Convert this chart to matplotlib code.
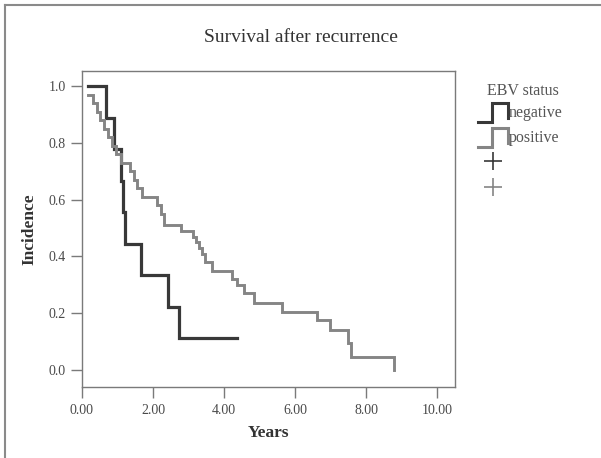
import matplotlib
matplotlib.use('Agg')
import matplotlib.pyplot as plt
from matplotlib.lines import Line2D

# ---- data ----
neg_times = [0.17, 0.68, 0.90, 1.10, 1.15, 1.20, 1.66, 2.42, 2.73, 4.35]
neg_surv = [1.0, 0.889, 0.778, 0.667, 0.556, 0.444, 0.333, 0.222, 0.111, 0.111]

pos_times = [0.17, 0.30, 0.42, 0.52, 0.62, 0.72, 0.85, 0.97, 1.10, 1.35, 1.45,
             1.55, 1.68, 2.10, 2.22, 2.32, 2.80, 3.12, 3.20, 3.28, 3.38, 3.45,
             3.65, 4.22, 4.37, 4.57, 4.85, 5.62, 6.62, 6.98, 7.48, 7.58, 8.78]
pos_surv = [0.97, 0.94, 0.91, 0.88, 0.85, 0.82, 0.79, 0.76, 0.73, 0.70, 0.67,
            0.64, 0.61, 0.58, 0.55, 0.51, 0.49, 0.47, 0.45, 0.43, 0.41, 0.38,
            0.35, 0.32, 0.30, 0.27, 0.235, 0.205, 0.176, 0.141, 0.095, 0.047, 0.0]

x_ticks = [0, 2, 4, 6, 8, 10]
x_labels = ['0.00', '2.00', '4.00', '6.00', '8.00', '10.00']
y_ticks = [0.0, 0.2, 0.4, 0.6, 0.8, 1.0]
y_labels = ['0.0', '0.2', '0.4', '0.6', '0.8', '1.0']
legend_title = 'EBV status'
legend_labels = ['negative', 'positive']

NEG_C = '#383838'
POS_C = '#858585'
TXT_C = '#4a4a4a'
AX_C = '#7a7a7a'

plt.rcParams['font.family'] = ['Liberation Serif', 'DejaVu Serif']

W, H = 601, 458
fig = plt.figure(figsize=(W / 100, H / 100), dpi=100)
fig.patch.set_facecolor('white')


def fx(px):
    return px / W


def fy(py):
    return 1 - py / H


ax = fig.add_axes([fx(82), fy(387), fx(455) - fx(82), fy(71) - fy(387)])
ax.step(neg_times, neg_surv, where='post', color=NEG_C, lw=2.3, solid_joinstyle='miter')
ax.step(pos_times, pos_surv, where='post', color=POS_C, lw=2.1, solid_joinstyle='miter')

ax.set_xlim(0, 10.5)
ax.set_ylim(-0.06, 1.053)
ax.set_xticks(x_ticks)
ax.set_xticklabels(x_labels)
ax.set_yticks(y_ticks)
ax.set_yticklabels(y_labels)
for s in ax.spines.values():
    s.set_color(AX_C)
    s.set_linewidth(1.0)
ax.tick_params(axis='both', direction='out', length=8, width=1.0, color=AX_C,
               labelcolor=TXT_C, labelsize=10)
ax.tick_params(axis='x', pad=4)
ax.set_xlabel('Years', fontsize=12.5, fontweight='bold', color='#333333', labelpad=6)
ax.set_ylabel('Incidence', fontsize=12.5, fontweight='bold', color='#333333', labelpad=8)

fig.text(fx(301), fy(37), 'Survival after recurrence', ha='center', va='center',
         fontsize=14, color='#333333')

# outer frame
fig.add_artist(Line2D([fx(5), fx(5)], [fy(5), fy(458)], color='#8a8a8a', lw=1.5))
fig.add_artist(Line2D([fx(5), fx(601)], [fy(5), fy(5)], color='#8a8a8a', lw=1.5))

# legend
fig.text(fx(487), fy(91), legend_title, ha='left', va='center', fontsize=11.5, color='#555555')
for yl, c, lab in [(113, NEG_C, legend_labels[0]), (138, POS_C, legend_labels[1])]:
    xs = [478, 492, 492, 508, 508]
    ys = [yl + 9, yl + 9, yl - 10, yl - 10, yl + 5]
    fig.add_artist(Line2D([fx(v) for v in xs], [fy(v) for v in ys], color=c, lw=2.2,
                          solid_joinstyle='miter'))
    fig.text(fx(509), fy(yl), lab, ha='left', va='center', fontsize=11.5, color='#555555')
for yl, c in [(161, NEG_C), (187, POS_C)]:
    fig.add_artist(Line2D([fx(493)], [fy(yl)], marker='+', markersize=13, mew=1.2,
                          color=c, ls='none'))

fig.savefig('out.png', dpi=100, facecolor='white')
